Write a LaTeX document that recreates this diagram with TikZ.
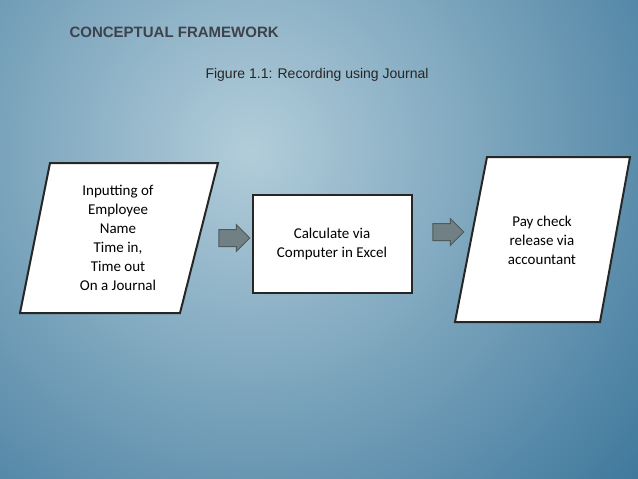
\documentclass[tikz,border=0pt]{standalone}
\usepackage{fontspec}
\setmainfont{Carlito}
\newfontfamily\arialfont{Liberation Sans}
\usetikzlibrary{shapes.arrows}
\definecolor{bgin}{RGB}{178,205,218}
\definecolor{bgout}{RGB}{52,112,150}
\definecolor{titlegray}{RGB}{62,66,74}
\definecolor{arrowgray}{RGB}{112,128,132}
\begin{document}
\begin{tikzpicture}[x=1pt, y=-1pt,
                    box/.style = {draw = black!85, line width = 2pt, fill = white},
                    boxtext/.style = {align = center, font = \fontsize{15}{19}\selectfont},
                    blockarrow/.style = {single arrow, draw = arrowgray!70!black, fill = arrowgray,
                                         line width = 1pt, minimum height = 31pt, minimum width = 26pt,
                                         single arrow head extend = 5pt, inner xsep = 0pt, inner ysep = 8pt}]
    \useasboundingbox (0, 0) rectangle (638, 479);
    \begin{scope}
    \clip (0, 0) rectangle (638, 479);
    \shade[inner color = bgin, outer color = bgout] (250, 150) circle (560);
    \end{scope}

    \node [anchor = west, text = titlegray, font = \arialfont\bfseries\fontsize{15}{18}\selectfont] (title) at (66, 32) {CONCEPTUAL FRAMEWORK};
    \node [anchor = west, text = black!85, font = \arialfont\fontsize{14}{17}\selectfont] (caption) at (202, 75) {Figure 1.1: Recording using Journal};

    % input box
    \draw [box] (50, 163) -- (218, 163) -- (180, 313) -- (20, 313) -- cycle;
    \node [boxtext] (input) at (118, 238) {Inputting of\\Employee\\Name\\Time in,\\Time out\\On a Journal};

    % calculation box
    \draw [box] (253, 195) rectangle (412, 293);
    \node [boxtext] (calc) at (332, 244) {Calculate via\\Computer in Excel};

    % release box
    \draw [box] (487, 157) -- (630, 157) -- (600, 322) -- (455, 322) -- cycle;
    \node [boxtext] (release) at (542, 240) {Pay check\\release via\\accountant};

    \node [blockarrow] (a1) at (230, 238) {};
    \node [blockarrow] (a2) at (444, 232) {};
\end{tikzpicture}
\end{document}
